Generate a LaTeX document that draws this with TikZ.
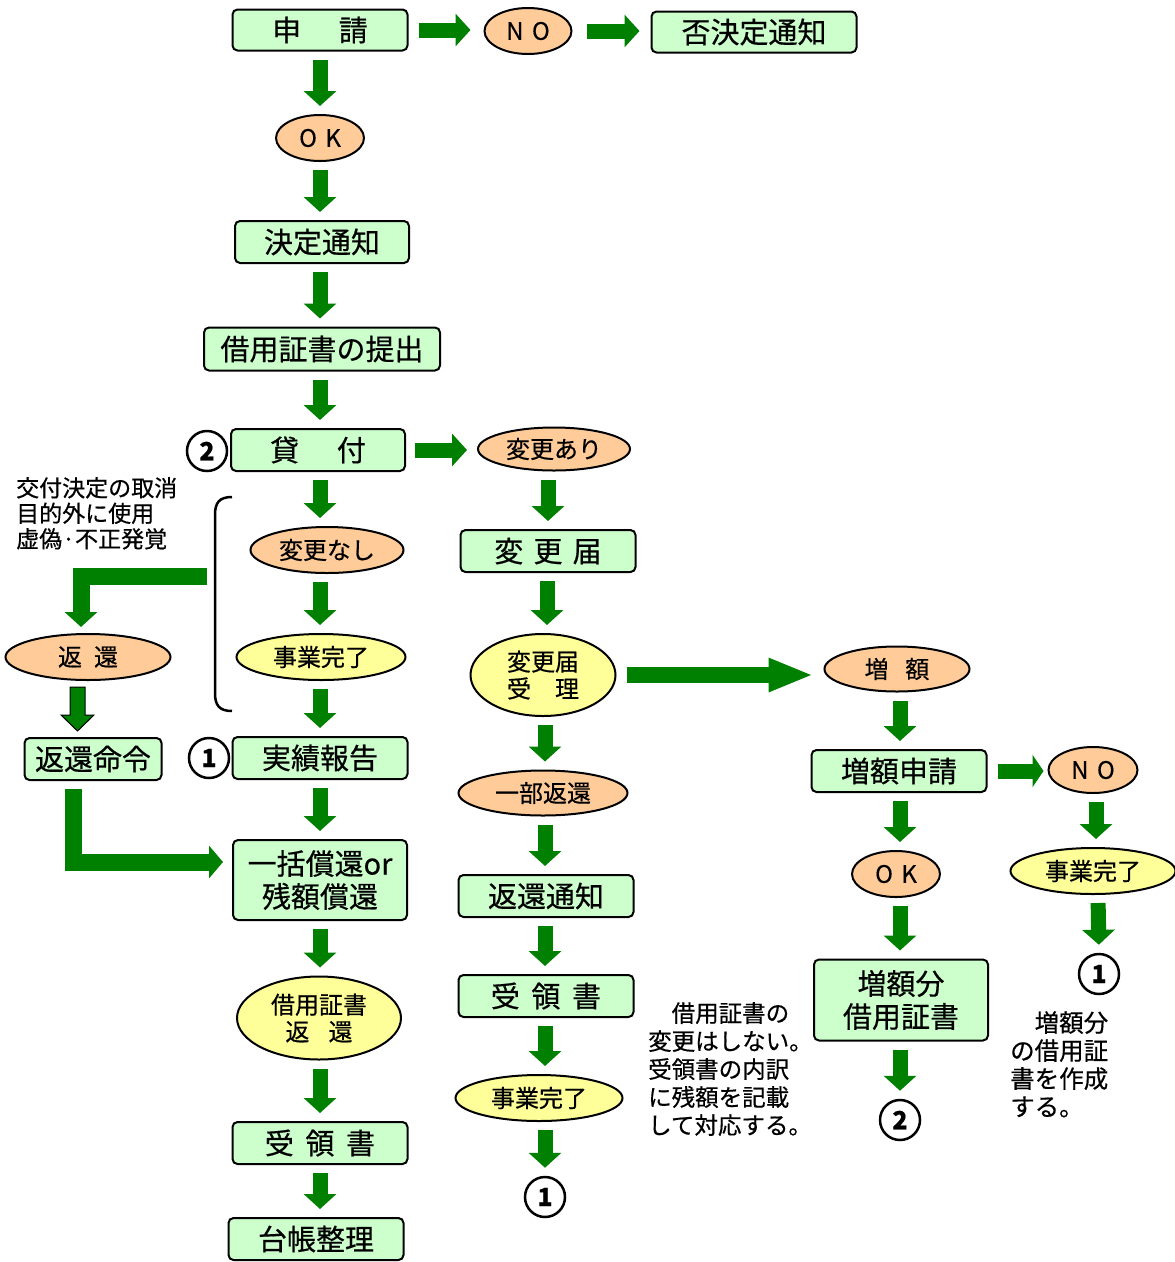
\documentclass[tikz,border=0pt]{standalone}
\usepackage{fontspec}
\newfontfamily\jp{Noto Sans CJK JP}[FakeBold=0.5]
\usetikzlibrary{arrows.meta,shapes.geometric,calc}
\definecolor{gbox}{HTML}{CCFFCC}
\definecolor{obox}{HTML}{FFCC99}
\definecolor{ybox}{HTML}{FFFF99}
\definecolor{garr}{HTML}{008000}
\begin{document}
\begin{tikzpicture}[x=1pt,y=-1pt,
 box/.style={draw=black, line width=2pt, fill=gbox, rounded corners=5pt, inner sep=0pt, font=\jp\fontsize{29}{33}\selectfont, align=center},
 ell/.style={ellipse, draw=black, line width=2pt, fill=obox, inner sep=0pt, font=\jp\fontsize{24}{27}\selectfont, align=center},
 yell/.style={ell, fill=ybox},
 num/.style={circle, draw=black, line width=2.5pt, fill=white, minimum size=40pt, inner sep=0pt, font=\jp\bfseries\fontsize{25}{25}\selectfont},
 note/.style={font=\jp\fontsize{23.5}{28}\selectfont, align=left, inner sep=0pt, anchor=north west},
 garrow/.style={draw=garr, line width=15pt, -{Triangle[width=32pt,length=15pt]}},
 varr/.style={garrow, shorten <=8pt, shorten >=8pt},
]
\useasboundingbox (0,0) rectangle (1175,1262);
\fill[white] (0,0) rectangle (1175,1262);

% left/main column
\node[box, minimum width=175pt, minimum height=41pt] (shinsei) at (320,30) {申\hspace{1.3em}請};
\node[ell, minimum width=87pt, minimum height=46pt] (no1) at (528,31) {N\hspace{0.35em}O};
\node[box, minimum width=205pt, minimum height=41pt] (hiketsu) at (754,32) {否決定通知};
\node[ell, minimum width=88pt, minimum height=46pt] (ok1) at (320,138) {O\hspace{0.35em}K};
\node[box, minimum width=174pt, minimum height=42pt] (kettei) at (322,242) {決定通知};
\node[box, minimum width=236pt, minimum height=43pt] (teishutsu) at (322,349) {借用証書の提出};
\node[box, minimum width=174pt, minimum height=42pt] (kashi) at (318,450) {貸\hspace{1.3em}付};
\node[num] (n2a) at (207,451) {2};
\node[ell, minimum width=152pt, minimum height=43pt] (henari) at (554,449) {変更あり};
\node[ell, minimum width=153pt, minimum height=46pt] (hennashi) at (327,550) {変更なし};
\node[yell, minimum width=169pt, minimum height=46pt] (kanryo1) at (321,657) {事業完了};
\node[box, minimum width=175pt, minimum height=42pt] (jisseki) at (320,758) {実績報告};
\node[num] (n1a) at (209,758) {1};
\node[ell, minimum width=165pt, minimum height=46pt] (henkan) at (88,657) {返\hspace{0.5em}還};
\node[box, minimum width=137pt, minimum height=42pt] (meirei) at (93,759) {返還命令};
\node[box, minimum width=174pt, minimum height=80pt] (ikkatsu) at (320,880) {一括償還or\\残額償還};
\node[yell, minimum width=164pt, minimum height=83pt] (shoshohenkan) at (319,1018) {借用証書\\返\hspace{0.8em}還};
\node[box, minimum width=175pt, minimum height=42pt] (juryo1) at (320,1143) {受\hspace{0.4em}領\hspace{0.4em}書};
\node[box, minimum width=175pt, minimum height=42pt] (daicho) at (316,1239) {台帳整理};

% middle column
\node[box, minimum width=175pt, minimum height=42pt] (todoke) at (548,551) {変\hspace{0.35em}更\hspace{0.35em}届};
\node[yell, minimum width=145pt, minimum height=82pt] (juri) at (543,675) {変更届\\受\hspace{1em}理};
\node[ell, minimum width=169pt, minimum height=45pt] (ichibu) at (543,793) {一部返還};
\node[box, minimum width=175pt, minimum height=42pt] (tsuchi) at (546,896) {返還通知};
\node[box, minimum width=175pt, minimum height=42pt] (juryo2) at (546,996) {受\hspace{0.4em}領\hspace{0.4em}書};
\node[yell, minimum width=167pt, minimum height=46pt] (kanryo2) at (539,1098) {事業完了};
\node[num] (n1b) at (545,1197) {1};

% right column
\node[ell, minimum width=145pt, minimum height=45pt] (zogaku) at (897,669) {増\hspace{0.7em}額};
\node[box, minimum width=175pt, minimum height=42pt] (zoshinsei) at (899,771) {増額申請};
\node[ell, minimum width=89pt, minimum height=46pt] (no2) at (1093,770) {N\hspace{0.35em}O};
\node[ell, minimum width=88pt, minimum height=46pt] (ok2) at (896,874) {O\hspace{0.35em}K};
\node[box, minimum width=174pt, minimum height=81pt] (zobun) at (901,1000) {増額分\\借用証書};
\node[num] (n2b) at (900,1120) {2};
\node[yell, minimum width=165pt, minimum height=46pt] (kanryo3) at (1093,871) {事業完了};
\node[num] (n1c) at (1099,974) {1};

% notes
\node[note, font=\jp\fontsize{23}{25.5}\selectfont] (t1) at (16,477) {交付決定の取消\\目的外に使用\\虚偽·不正発覚};
\node[note] (t2) at (648,1002) {\hspace{1em}借用証書の\\変更はしない。\\受領書の内訳\\に残額を記載\\して対応する。};
\node[note, font=\jp\fontsize{24.5}{28}\selectfont] (t3) at (1010,1011) {\hspace{1em}増額分\\の借用証\\書を作成\\する。};

% bracket
\draw[line width=2.5pt] (232,497) .. controls (219,497) and (215,503) .. (215,515) -- (215,693) .. controls (215,705) and (219,711) .. (232,711);

% horizontal arrows
\draw[garrow, shorten <=10pt, shorten >=13pt] (shinsei.east) -- (shinsei.east -| no1.west);
\draw[garrow, shorten <=14pt, shorten >=11pt] (no1.east) -- (no1.east -| hiketsu.west);
\draw[garrow, shorten <=9pt, shorten >=10pt] (kashi.east) -- (kashi.east -| henari.west);
\draw[garrow, line width=16pt, -{Triangle[width=31pt,length=45pt]}, shorten <=10pt, shorten >=10pt] (juri.east) -- (juri.east -| zogaku.west);
\draw[garrow, -{Triangle[width=32pt,length=11pt]}, shorten <=10pt, shorten >=4pt] (zoshinsei.east) -- (zoshinsei.east -| no2.west);

% vertical arrows, main column
\draw[varr] (shinsei.south -| 320,0) -- (ok1.north -| 320,0);
\draw[varr] (ok1.south -| 320,0) -- (kettei.north -| 320,0);
\draw[varr] (kettei.south -| 320,0) -- (teishutsu.north -| 320,0);
\draw[varr] (teishutsu.south -| 320,0) -- (kashi.north -| 320,0);
\draw[varr] (kashi.south -| 320,0) -- (hennashi.north -| 320,0);
\draw[varr] (hennashi.south -| 320,0) -- (kanryo1.north -| 320,0);
\draw[varr] (kanryo1.south -| 320,0) -- (jisseki.north -| 320,0);
\draw[varr] (jisseki.south -| 320,0) -- (ikkatsu.north -| 320,0);
\draw[varr] (ikkatsu.south -| 320,0) -- (shoshohenkan.north -| 320,0);
\draw[varr] (shoshohenkan.south -| 320,0) -- (juryo1.north -| 320,0);
\draw[varr] (juryo1.south -| 320,0) -- (daicho.north -| 320,0);

% middle column
\draw[varr] (henari.south -| 548,0) -- (todoke.north -| 548,0);
\draw[varr] (todoke.south -| 547,0) -- (juri.north -| 547,0);
\draw[varr] (juri.south -| 545,0) -- (ichibu.north -| 545,0);
\draw[varr] (ichibu.south -| 545,0) -- (tsuchi.north -| 545,0);
\draw[varr] (tsuchi.south -| 545,0) -- (juryo2.north -| 545,0);
\draw[varr] (juryo2.south -| 545,0) -- (kanryo2.north -| 545,0);
\draw[varr] (kanryo2.south -| 545,0) -- (n1b.north);

% right column
\draw[varr] (zogaku.south -| 900,0) -- (zoshinsei.north -| 900,0);
\draw[varr] (zoshinsei.south -| 900,0) -- (ok2.north -| 900,0);
\draw[varr] (ok2.south -| 900,0) -- (zobun.north -| 900,0);
\draw[varr] (zobun.south -| 900,0) -- (n2b.north);
\draw[varr] (no2.south -| 1096,0) -- (kanryo3.north -| 1096,0);
\draw[varr] (kanryo3.south -| 1098,0) -- (n1c.north);

% return branch
\coordinate (lstart) at (207,576);
\draw[garrow, line width=17pt, line join=miter, shorten >=6pt] (lstart) -| ([xshift=-7pt]henkan.north);
\draw[fill=garr, draw=black, line width=1pt] ($(henkan.south)+(-18,6)$) -- ++(15,0) -- ++(0,28) -- ++(9,0) -- ++(-16.5,16) -- ++(-16.5,-16) -- ++(9,0) -- cycle;
\draw[garrow, line width=17pt, line join=miter, -{Triangle[width=32pt,length=14pt]}, shorten <=8pt, shorten >=9pt] ([xshift=-20pt]meirei.south) |- ([yshift=18pt]ikkatsu.west);
\end{tikzpicture}
\end{document}
